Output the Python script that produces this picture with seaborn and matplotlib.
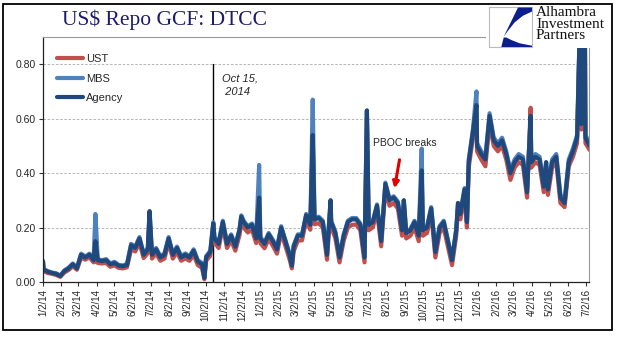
import numpy as np
import pandas as pd
import matplotlib
matplotlib.use("Agg")
import matplotlib.pyplot as plt
import seaborn as sns
from matplotlib.patches import Rectangle, Polygon
from matplotlib.lines import Line2D

# ---------------- data ----------------
week_dates = pd.date_range("2014-01-03", "2016-07-08", freq="W-FRI")  # 132 Fridays

agency_weekly = [
    # 2014
    0.045, 0.038, 0.033, 0.030, 0.022,
    0.040, 0.050, 0.065, 0.050,
    0.100, 0.090, 0.100, 0.080,
    0.080, 0.077, 0.080, 0.065,
    0.070, 0.060, 0.058, 0.062, 0.135,
    0.125, 0.160, 0.100, 0.120,
    0.100, 0.120, 0.090, 0.100,
    0.160, 0.100, 0.125, 0.090, 0.100,
    0.090, 0.115, 0.075, 0.065,
    0.090, 0.110, 0.160, 0.140, 0.220,
    0.140, 0.170, 0.130, 0.190,
    0.220, 0.200, 0.210, 0.160,
    # 2015
    0.160, 0.140, 0.175, 0.150, 0.120,
    0.200, 0.150, 0.100, 0.130,
    0.170, 0.170, 0.245, 0.210,
    0.230, 0.235, 0.220, 0.100,
    0.220, 0.180, 0.090, 0.170, 0.220,
    0.230, 0.230, 0.210, 0.090,
    0.210, 0.220, 0.280, 0.150, 0.360,
    0.300, 0.310, 0.290, 0.190,
    0.180, 0.190, 0.220, 0.170,
    0.190, 0.200, 0.270, 0.110, 0.200,
    0.220, 0.150, 0.080, 0.190,
    0.250, 0.340, 0.440, 0.550,
    # 2016
    0.500, 0.470, 0.450, 0.610, 0.520,
    0.500, 0.520, 0.470, 0.400,
    0.440, 0.460, 0.450, 0.330,
    0.440, 0.460, 0.450, 0.350, 0.340,
    0.440, 0.460, 0.310, 0.290,
    0.440, 0.480, 0.530, 0.580,
    0.530, 0.500,
]

ust_weekly = [
    # 2014
    0.040, 0.033, 0.030, 0.026, 0.019,
    0.035, 0.044, 0.058, 0.045,
    0.090, 0.082, 0.091, 0.072,
    0.070, 0.068, 0.070, 0.056,
    0.061, 0.052, 0.050, 0.054, 0.120,
    0.112, 0.145, 0.088, 0.106,
    0.086, 0.105, 0.078, 0.086,
    0.145, 0.086, 0.110, 0.078, 0.087,
    0.078, 0.100, 0.062, 0.052,
    0.078, 0.097, 0.145, 0.125, 0.205,
    0.125, 0.152, 0.115, 0.172,
    0.200, 0.182, 0.192, 0.143,
    # 2015
    0.143, 0.124, 0.158, 0.133, 0.104,
    0.182, 0.133, 0.084, 0.113,
    0.152, 0.153, 0.226, 0.192,
    0.212, 0.216, 0.201, 0.082,
    0.201, 0.161, 0.072, 0.151, 0.200,
    0.210, 0.211, 0.190, 0.072,
    0.190, 0.201, 0.260, 0.131, 0.340,
    0.280, 0.290, 0.270, 0.170,
    0.160, 0.170, 0.200, 0.150,
    0.170, 0.180, 0.250, 0.090, 0.180,
    0.200, 0.130, 0.062, 0.170,
    0.230, 0.320, 0.420, 0.530,
    # 2016
    0.480, 0.450, 0.425, 0.585, 0.500,
    0.480, 0.500, 0.450, 0.375,
    0.420, 0.440, 0.430, 0.310,
    0.420, 0.440, 0.430, 0.330, 0.320,
    0.420, 0.440, 0.290, 0.275,
    0.425, 0.460, 0.510, 0.560,
    0.510, 0.485,
]

mbs_weekly = [
    # 2014
    0.048, 0.040, 0.035, 0.032, 0.024,
    0.043, 0.053, 0.068, 0.053,
    0.104, 0.094, 0.104, 0.084,
    0.084, 0.080, 0.084, 0.068,
    0.074, 0.063, 0.061, 0.066, 0.140,
    0.130, 0.165, 0.105, 0.125,
    0.105, 0.125, 0.095, 0.105,
    0.165, 0.105, 0.130, 0.095, 0.105,
    0.095, 0.120, 0.080, 0.070,
    0.095, 0.115, 0.165, 0.145, 0.225,
    0.145, 0.175, 0.135, 0.195,
    0.225, 0.205, 0.215, 0.165,
    # 2015
    0.165, 0.145, 0.180, 0.155, 0.125,
    0.205, 0.155, 0.105, 0.135,
    0.175, 0.175, 0.250, 0.215,
    0.235, 0.240, 0.225, 0.105,
    0.225, 0.185, 0.095, 0.175, 0.225,
    0.235, 0.235, 0.215, 0.095,
    0.215, 0.225, 0.285, 0.155, 0.365,
    0.305, 0.315, 0.295, 0.195,
    0.185, 0.195, 0.225, 0.175,
    0.195, 0.205, 0.275, 0.115, 0.205,
    0.225, 0.155, 0.085, 0.195,
    0.255, 0.345, 0.450, 0.560,
    # 2016
    0.510, 0.480, 0.460, 0.620, 0.530,
    0.510, 0.530, 0.480, 0.410,
    0.450, 0.470, 0.460, 0.340,
    0.450, 0.470, 0.460, 0.360, 0.350,
    0.450, 0.470, 0.320, 0.300,
    0.450, 0.490, 0.540, 0.590,
    0.540, 0.510,
]

# single-day events (month/quarter ends, dips)
event_dates = ["2014-01-02", "2014-03-31", "2014-06-30", "2014-09-30", "2014-10-15",
               "2014-12-01", "2014-12-31", "2015-02-24", "2015-03-31", "2015-04-30",
               "2015-06-30", "2015-08-31", "2015-09-30", "2015-11-30", "2015-12-15",
               "2015-12-31", "2016-03-31", "2016-04-26", "2016-06-22", "2016-06-23",
               "2016-06-29", "2016-06-30"]
event_agency = [0.075, 0.150, 0.260, 0.015, 0.215, 0.240, 0.310, 0.060, 0.540, 0.300,
                0.630, 0.300, 0.410, 0.290, 0.220, 0.650, 0.610, 0.440, 0.980, 0.950,
                0.950, 0.980]
event_ust = [0.070, 0.080, 0.240, 0.010, 0.200, 0.220, 0.290, 0.050, 0.500, 0.280,
             0.600, 0.280, 0.380, 0.270, 0.200, 0.620, 0.640, 0.420, 0.960, 0.930,
             0.930, 0.960]
event_mbs = [0.078, 0.250, 0.260, 0.020, 0.220, 0.245, 0.430, 0.065, 0.670, 0.300,
             0.630, 0.300, 0.490, 0.290, 0.220, 0.700, 0.610, 0.440, 0.980, 0.950,
             0.950, 0.980]

series_names = ["UST", "MBS", "Agency"]
series_colors = ["#C0504D", "#4F81BD", "#1F497D"]

# ---------------- build table ----------------
df = pd.DataFrame({
    "date": list(week_dates) + list(pd.to_datetime(event_dates)),
    "UST": ust_weekly + event_ust,
    "MBS": mbs_weekly + event_mbs,
    "Agency": agency_weekly + event_agency,
}).sort_values("date")
long = df.melt(id_vars="date", var_name="series", value_name="value")

# ---------------- figure ----------------
sns.set_style("white")
plt.rcParams["font.family"] = ["Liberation Sans", "DejaVu Sans"]

W, H = 618, 341
fig = plt.figure(figsize=(W / 100, H / 100), dpi=100)
L, R, T, B = 43, 589, 37, 282
ax = fig.add_axes([L / W, 1 - B / H, (R - L) / W, (B - T) / H])

sns.lineplot(data=long, x="date", y="value", hue="series", hue_order=series_names,
             palette=dict(zip(series_names, series_colors)), linewidth=3.0,
             estimator=None, sort=True, legend=False, ax=ax)

ax.set_xlim(pd.Timestamp("2014-01-02"), pd.Timestamp("2016-07-07"))
ax.set_ylim(0, 0.90)
ax.set_xlabel("")
ax.set_ylabel("")

# axes ticks
yt = [0.0, 0.2, 0.4, 0.6, 0.8]
ax.set_yticks(yt)
ax.set_yticklabels([f"{v:.2f}" for v in yt], fontsize=7.5)
tick_dates = pd.date_range("2014-01-01", "2016-07-01", freq="MS") + pd.Timedelta(days=1)
ax.set_xticks(tick_dates)
ax.set_xticklabels([f"{d.month}/{d.day}/{d.year % 100}" for d in tick_dates],
                   rotation=90, fontsize=7)
ax.tick_params(axis="both", direction="out", length=3, width=0.8, color="#333333",
               pad=2, left=True, bottom=True)

ax.yaxis.grid(True, linestyle=(0, (3, 2)), color="#AAAAAA", linewidth=0.6)
ax.xaxis.grid(False)
for s in ["left", "bottom"]:
    ax.spines[s].set_color("#222222")
    ax.spines[s].set_linewidth(0.9)
for s in ["top", "right"]:
    ax.spines[s].set_color("#999999")
    ax.spines[s].set_linewidth(0.8)

# legend
handles = [Line2D([0], [0], color=c, lw=3) for c in series_colors]
ax.legend(handles, series_names, loc="upper left", bbox_to_anchor=(0.025, 0.93),
          frameon=False, fontsize=8, labelspacing=0.85, handlelength=2.4,
          handletextpad=0.25, borderpad=0, borderaxespad=0)

# Oct 15, 2014 marker
oct15 = pd.Timestamp("2014-10-15")
ax.plot([oct15, oct15], [0, 0.80], color="black", lw=1.0, zorder=1)
ax.text(oct15 + pd.Timedelta(days=14), 0.765, "Oct 15,\n 2014", fontsize=8,
        style="italic", va="top", ha="left", linespacing=1.35)

# PBOC annotation
fig.text(373 / W, 1 - 143 / H, "PBOC breaks", fontsize=7.5, va="center", ha="left")
ax.annotate("", xy=(394, H - 191), xytext=(400, H - 157), xycoords="figure pixels",
            textcoords="figure pixels",
            arrowprops=dict(arrowstyle="-|>", color="#E00000", lw=2.2, mutation_scale=9))

# title
fig.text(164 / W, 1 - 20 / H, "US$ Repo GCF: DTCC", fontsize=15.5,
         family=["Liberation Serif", "DejaVu Serif"], color="#1C1C6B",
         ha="center", va="center")

# outer frame
fig.add_artist(Rectangle((3 / W, 1 - 330 / H), 609 / W, 326 / H, transform=fig.transFigure,
                         fill=False, edgecolor="black", linewidth=1.3))

# logo (white backing, box, swoosh, text)
fig.add_artist(Rectangle((486 / W, 1 - 48 / H), 125 / W, 43 / H, transform=fig.transFigure,
                         facecolor="white", edgecolor="none", zorder=5))
fig.add_artist(Rectangle((489 / W, 1 - 47 / H), 43 / W, 40 / H, transform=fig.transFigure,
                         facecolor="white", edgecolor="#BBBBBB", linewidth=0.8, zorder=6))
upper = [(518, 7.5), (532, 7.5), (532, 11.5), (523, 15.7), (514.7, 22.3), (508, 30.7),
         (503.7, 36.7)]
lower = [(503.7, 37.5), (506.3, 37.5), (511.3, 40), (519.7, 43.3), (532, 45.7),
         (532, 47), (501.3, 47)]
for shape in (upper, lower):
    fig.add_artist(Polygon([(x / W, 1 - y / H) for x, y in shape], closed=True,
                           transform=fig.transFigure, facecolor="#0B1E8C",
                           edgecolor="none", zorder=7))
fig.text(536 / W, 1 - 6 / H, "Alhambra\nInvestment\nPartners", fontsize=11,
         family=["Liberation Serif", "DejaVu Serif"], color="#111111",
         ha="left", va="top", linespacing=0.85, zorder=8)

fig.savefig("out.png", dpi=100)
